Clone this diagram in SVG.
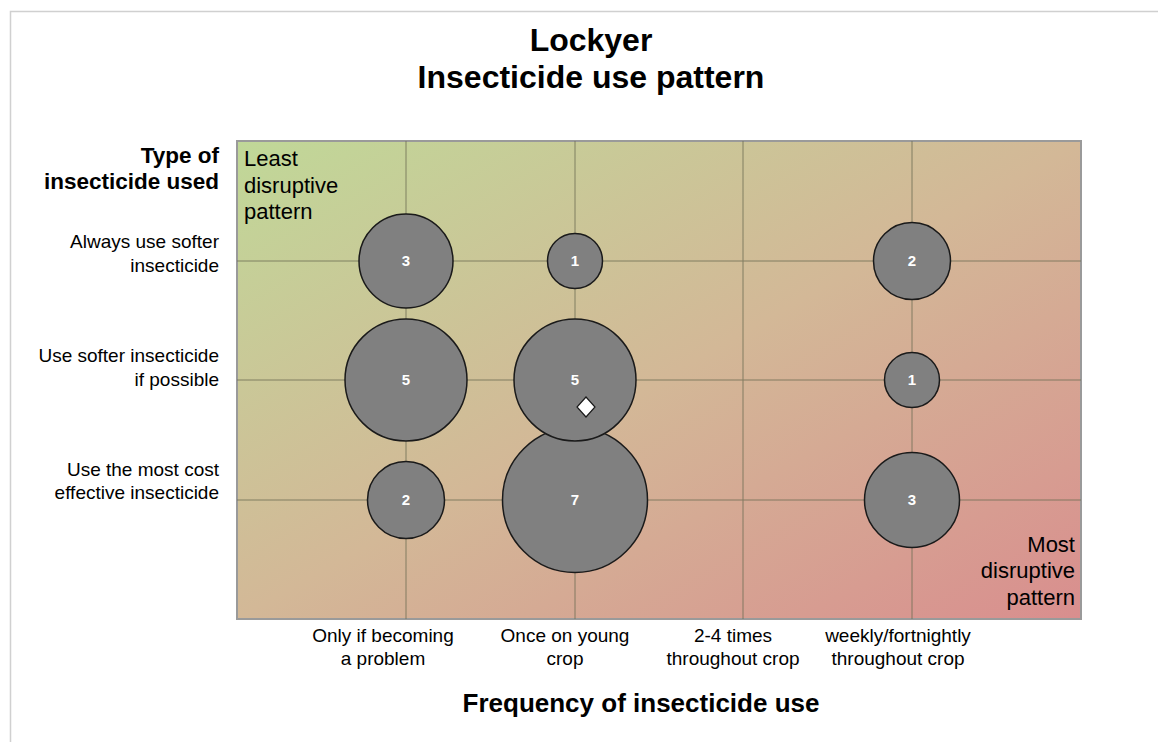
<svg xmlns="http://www.w3.org/2000/svg" width="1158" height="742" viewBox="0 0 1158 742">
<defs>
<linearGradient id="bg" x1="0" y1="0" x2="1" y2="1">
<stop offset="0" stop-color="#c0d898"/>
<stop offset="0.5" stop-color="#d3b897"/>
<stop offset="1" stop-color="#d98e8e"/>
</linearGradient>
<style>
.t{font-family:"Liberation Sans",Arial,sans-serif;fill:#000}
.title{font-size:32px;font-weight:bold;text-anchor:middle}
.yl{font-size:19px;text-anchor:end}
.xl{font-size:19px;text-anchor:middle}
.corner{font-size:22px}
.bub{fill:#808080;stroke:#1a1a1a;stroke-width:1.5}
.num{font-family:"Liberation Sans",Arial,sans-serif;font-size:15px;font-weight:bold;fill:#fff;text-anchor:middle}
.grid{stroke:#6e6e55;stroke-width:1;opacity:0.8}
</style>
</defs>
<rect width="1158" height="742" fill="#fff"/>
<path d="M10.5 742 V11.5 H1158" fill="none" stroke="#d0d0d0" stroke-width="1.5"/>
<text class="t title" x="591" y="51">Lockyer</text>
<text class="t title" x="591" y="88">Insecticide use pattern</text>
<rect x="237" y="141" width="844" height="478" fill="url(#bg)" stroke="#9a9a9a" stroke-width="2"/>
<g id="grid" class="grid">
<line x1="406" y1="141" x2="406" y2="619"/>
<line x1="575" y1="141" x2="575" y2="619"/>
<line x1="743" y1="141" x2="743" y2="619"/>
<line x1="912" y1="141" x2="912" y2="619"/>
<line x1="237" y1="261" x2="1081" y2="261"/>
<line x1="237" y1="380" x2="1081" y2="380"/>
<line x1="237" y1="500" x2="1081" y2="500"/>
</g>
<text class="t corner" x="244" y="166">Least</text>
<text class="t corner" x="244" y="193">disruptive</text>
<text class="t corner" x="244" y="219">pattern</text>
<text class="t corner" x="1075" y="552" text-anchor="end">Most</text>
<text class="t corner" x="1075" y="578" text-anchor="end">disruptive</text>
<text class="t corner" x="1075" y="605" text-anchor="end">pattern</text>
<g id="b-3-always"><circle class="bub" cx="406" cy="261" r="47"/><text class="num" x="406" y="266">3</text></g>
<g id="b-1-always"><circle class="bub" cx="575" cy="261" r="27.5"/><text class="num" x="575" y="266">1</text></g>
<g id="b-2-always"><circle class="bub" cx="912" cy="261" r="38.5"/><text class="num" x="912" y="266">2</text></g>
<g id="b-5-softer-a"><circle class="bub" cx="406" cy="380" r="61"/><text class="num" x="406" y="385">5</text></g>
<g id="b-7-cost"><circle class="bub" cx="575" cy="500" r="72.5"/><text class="num" x="575" y="505">7</text></g>
<g id="b-5-softer-b"><circle class="bub" cx="575" cy="380" r="61"/><text class="num" x="575" y="385">5</text></g>
<g id="b-1-softer"><circle class="bub" cx="912" cy="380" r="27.5"/><text class="num" x="912" y="385">1</text></g>
<g id="b-2-cost"><circle class="bub" cx="406" cy="500" r="38.5"/><text class="num" x="406" y="505">2</text></g>
<g id="b-3-cost"><circle class="bub" cx="912" cy="500" r="47.5"/><text class="num" x="912" y="505">3</text></g>
<g id="marker-avg"><polygon points="586,397 595,407 586,417 577,407" fill="#fff" stroke="#1a1a1a" stroke-width="1.2"/></g>
<g id="ylabels">
<text class="t" x="219" y="163" font-size="22.5" font-weight="bold" text-anchor="end">Type of</text>
<text class="t" x="219" y="189" font-size="22.5" font-weight="bold" text-anchor="end">insecticide used</text>
<text class="t yl" x="219" y="248">Always use softer</text>
<text class="t yl" x="219" y="272">insecticide</text>
<text class="t yl" x="219" y="362">Use softer insecticide</text>
<text class="t yl" x="219" y="386">if possible</text>
<text class="t yl" x="219" y="476">Use the most cost</text>
<text class="t yl" x="219" y="499">effective insecticide</text>
</g>
<g id="xlabels">
<text class="t xl" x="383" y="642">Only if becoming</text>
<text class="t xl" x="383" y="665">a problem</text>
<text class="t xl" x="565" y="642">Once on young</text>
<text class="t xl" x="565" y="665">crop</text>
<text class="t xl" x="733" y="642">2-4 times</text>
<text class="t xl" x="733" y="665">throughout crop</text>
<text class="t xl" x="898" y="642">weekly/fortnightly</text>
<text class="t xl" x="898" y="665">throughout crop</text>
</g>
<text class="t" x="641" y="712" font-size="26" font-weight="bold" text-anchor="middle">Frequency of insecticide use</text>
</svg>
